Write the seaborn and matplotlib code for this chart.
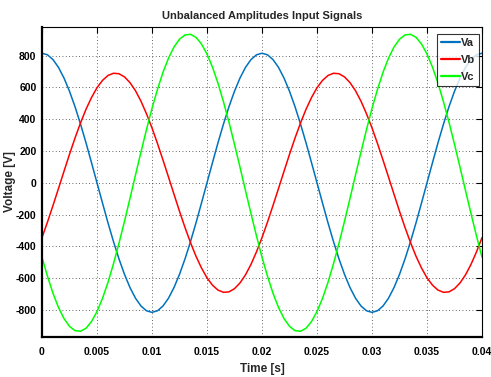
import numpy as np
import pandas as pd
import matplotlib
matplotlib.use("Agg")
import matplotlib.pyplot as plt
import seaborn as sns

time_s = [round(i * 0.0005, 4) for i in range(81)]
va = [815, 805, 775, 726, 659, 576, 479, 370, 252, 127, 0,
      -127, -252, -370, -479, -576, -659, -726, -775, -805, -815,
      -805, -775, -726, -659, -576, -479, -370, -252, -127, 0,
      127, 252, 370, 479, 576, 659, 726, 775, 805, 815,
      805, 775, 726, 659, 576, 479, 370, 252, 127, 0,
      -127, -252, -370, -479, -576, -659, -726, -775, -805, -815,
      -805, -775, -726, -659, -576, -479, -370, -252, -127, 0,
      127, 252, 370, 479, 576, 659, 726, 775, 805, 815]
vb = [-345, -247, -143, -36, 72, 179, 281, 376, 462, 536, 598,
      644, 675, 689, 686, 666, 630, 579, 513, 434, 345,
      247, 143, 36, -72, -179, -281, -376, -462, -536, -598,
      -644, -675, -689, -686, -666, -630, -579, -513, -434, -345,
      -247, -143, -36, 72, 179, 281, 376, 462, 536, 598,
      644, 675, 689, 686, 666, 630, 579, 513, 434, 345,
      247, 143, 36, -72, -179, -281, -376, -462, -536, -598,
      -644, -675, -689, -686, -666, -630, -579, -513, -434, -345]
vc = [-468, -588, -695, -784, -854, -903, -930, -934, -915, -873, -810,
      -727, -626, -509, -380, -242, -98, 49, 194, 335, 468,
      588, 695, 784, 854, 903, 930, 934, 915, 873, 810,
      727, 626, 509, 380, 242, 98, -49, -194, -335, -468,
      -588, -695, -784, -854, -903, -930, -934, -915, -873, -810,
      -727, -626, -509, -380, -242, -98, 49, 194, 335, 468,
      588, 695, 784, 854, 903, 930, 934, 915, 873, 810,
      727, 626, 509, 380, 242, 98, -49, -194, -335, -468]
series_names = ["Va", "Vb", "Vc"]
series_colors = ["#0072BD", "#FF0000", "#00FF00"]
x_ticks = [0, 0.005, 0.01, 0.015, 0.02, 0.025, 0.03, 0.035, 0.04]
x_ticklabels = ["0", "0.005", "0.01", "0.015", "0.02", "0.025", "0.03", "0.035", "0.04"]
y_ticks = [-800, -600, -400, -200, 0, 200, 400, 600, 800]
y_ticklabels = ["-800", "-600", "-400", "-200", "0", "200", "400", "600", "800"]

df = pd.DataFrame({
    "t": time_s * 3,
    "v": va + vb + vc,
    "s": ["Va"] * len(va) + ["Vb"] * len(vb) + ["Vc"] * len(vc),
})

sns.set_style("white")
plt.rcParams["font.family"] = ["Liberation Sans", "DejaVu Sans"]

fig = plt.figure(figsize=(4.91, 3.77), dpi=100)
ax = fig.add_axes([0.0855, 0.1061, 0.8962, 0.8223])

sns.lineplot(data=df, x="t", y="v", hue="s", hue_order=series_names,
             palette=series_colors, linewidth=1.1, ax=ax, legend=False)

ax.set_xlim(0, 0.04)
ax.set_ylim(-970, 980)
ax.set_xticks(x_ticks)
ax.set_xticklabels(x_ticklabels)
ax.set_yticks(y_ticks)
ax.set_yticklabels(y_ticklabels)
ax.grid(True, color="black", linestyle=(0, (1, 3)), linewidth=0.6, alpha=0.8)
ax.tick_params(direction="in", length=4, width=0.8, top=True, right=True,
               labelsize=7.5, colors="black")
ax.tick_params(axis="x", pad=7)
ax.tick_params(axis="y", pad=4)
for lab in ax.get_xticklabels() + ax.get_yticklabels():
    lab.set_fontweight("bold")
for sp in ax.spines.values():
    sp.set_color("black")
    sp.set_linewidth(0.8)
ax.spines["left"].set_linewidth(1.6)
ax.spines["bottom"].set_linewidth(1.6)

ax.set_title("Unbalanced Amplitudes Input Signals", fontsize=8, fontweight="bold", pad=6)
ax.set_xlabel("Time [s]", fontsize=8.5, fontweight="bold")
ax.xaxis.set_label_coords(0.5, -0.085)
ax.set_ylabel("Voltage [V]", fontsize=8.5, fontweight="bold")
ax.yaxis.set_label_coords(-0.058, 0.5)

handles = [plt.Line2D([], [], color=c, linewidth=1.6) for c in series_colors]
leg = ax.legend(handles, series_names, loc="upper right", fontsize=8,
                frameon=True, fancybox=False, handlelength=1.7,
                handletextpad=0.1, borderaxespad=0.25, labelspacing=0.6,
                borderpad=0.35, bbox_to_anchor=(1.0, 0.985))
leg.get_frame().set_edgecolor("black")
leg.get_frame().set_linewidth(0.8)
for t in leg.get_texts():
    t.set_fontweight("bold")

fig.savefig("out.png", dpi=100)
